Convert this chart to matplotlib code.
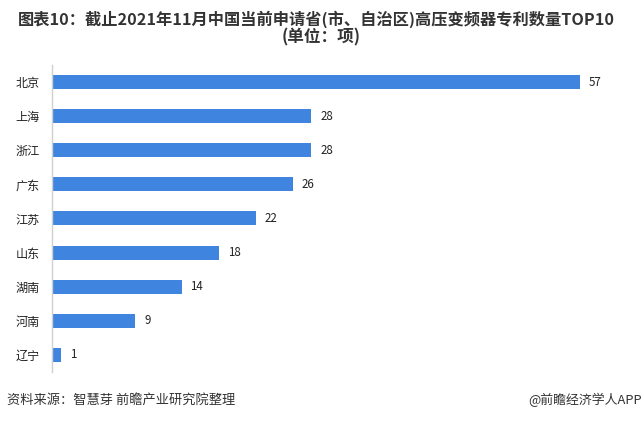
import matplotlib.pyplot as plt

plt.rcParams['font.family'] = ['Noto Sans CJK SC', 'DejaVu Sans']

#data
provinces = ['北京', '上海', '浙江', '广东', '江苏', '山东', '湖南', '河南', '辽宁']
patents = [57, 28, 28, 26, 22, 18, 14, 9, 1]

fig = plt.figure(figsize=(6.44, 4.25), dpi=100)
ax = fig.add_axes([0.0807, 0.1247, 0.8634, 0.7224])

ypos = list(range(len(provinces)))
ax.barh(ypos, patents, height=0.41, color='#3F85E0')
for y, v in zip(ypos, patents):
    ax.text(v + 0.95, y, str(v), va='center', ha='left', fontsize=8.3, color='#222222')

ax.set_yticks(ypos)
ax.set_yticklabels(provinces, fontsize=8.7, color='#222222')
ax.set_ylim(len(provinces) - 0.5, -0.5)
ax.set_xlim(0, 60)
ax.set_xticks([])
ax.tick_params(axis='y', length=0, pad=9)

for s in ['top', 'right', 'bottom']:
    ax.spines[s].set_visible(False)
ax.spines['left'].set_color('#d0d0d0')
ax.spines['left'].set_linewidth(1)

#title
fig.text(0.491, 0.955, '图表10：截止2021年11月中国当前申请省(市、自治区)高压变频器专利数量TOP10',
         ha='center', va='center', fontsize=11.7, fontweight='bold', color='#333333')
fig.text(0.499, 0.911, '(单位：项)', ha='center', va='center',
         fontsize=12, fontweight='bold', color='#333333')

#footer
fig.text(0.011, 0.058, '资料来源：智慧芽 前瞻产业研究院整理', ha='left', va='center',
         fontsize=9.5, color='#333333')
fig.text(0.997, 0.058, '@前瞻经济学人APP', ha='right', va='center',
         fontsize=9.3, color='#333333')

fig.savefig('out.png', dpi=100)
